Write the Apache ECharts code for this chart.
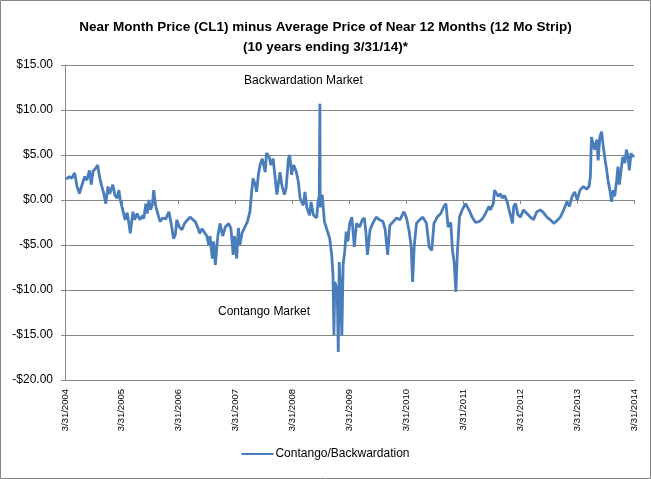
<!DOCTYPE html>
<html lang="en">
<head>
    <meta charset="UTF-8">
    <title>Contango/Backwardation</title>
    <style>
        html, body { margin: 0; padding: 0; background: #fff; }
    </style>
</head>
<body>
<div id="chart_main" style="width:651px;height:479px;"></div>
<script src="https://cdn.jsdelivr.net/npm/echarts@6/dist/echarts.min.js"></script>
<script>
    // near month minus 12 month strip
    var dates = [
        '2004-04-07', '2004-04-27', '2004-05-13', '2004-06-01', '2004-06-15', '2004-07-01', '2004-07-15', '2004-08-04',
        '2004-08-18', '2004-09-04', '2004-09-15', '2004-09-27', '2004-10-13', '2004-10-27', '2004-11-07', '2004-11-21',
        '2004-12-04', '2004-12-18',
        '2005-01-01', '2005-01-12', '2005-02-01', '2005-02-15', '2005-03-01', '2005-03-12', '2005-03-21', '2005-04-07',
        '2005-04-21', '2005-05-04', '2005-05-15', '2005-05-24', '2005-06-10', '2005-06-21', '2005-07-07', '2005-07-24',
        '2005-08-13', '2005-08-18', '2005-09-01', '2005-09-10', '2005-09-21', '2005-10-01', '2005-10-13', '2005-10-21',
        '2005-11-04', '2005-11-18', '2005-12-01', '2005-12-18',
        '2006-01-07', '2006-01-27', '2006-02-12', '2006-02-26', '2006-03-10', '2006-03-18', '2006-04-04', '2006-04-21',
        '2006-05-07', '2006-05-21', '2006-06-12', '2006-07-01', '2006-07-15', '2006-08-01', '2006-08-12', '2006-08-27',
        '2006-09-12', '2006-09-27', '2006-10-10', '2006-10-18', '2006-11-01', '2006-11-10', '2006-11-21', '2006-12-07',
        '2006-12-21',
        '2007-01-07', '2007-01-24', '2007-02-15', '2007-03-01', '2007-03-07', '2007-03-15', '2007-03-24', '2007-04-07',
        '2007-04-18', '2007-04-27', '2007-05-13', '2007-05-27', '2007-06-15', '2007-07-01', '2007-07-12', '2007-07-21',
        '2007-08-04', '2007-08-13', '2007-08-24', '2007-09-04', '2007-09-18', '2007-10-07', '2007-10-15', '2007-11-01',
        '2007-11-12', '2007-11-27', '2007-12-10', '2007-12-21',
        '2008-01-10', '2008-01-21', '2008-02-07', '2008-02-18', '2008-03-04', '2008-03-13', '2008-03-24', '2008-04-07',
        '2008-04-24', '2008-05-07', '2008-05-18', '2008-06-07', '2008-06-18', '2008-07-01', '2008-07-18', '2008-07-27',
        '2008-08-12', '2008-09-01', '2008-09-10', '2008-09-18', '2008-09-22', '2008-09-24', '2008-10-07', '2008-10-21',
        '2008-11-10', '2008-11-24', '2008-12-07', '2008-12-15', '2008-12-21', '2008-12-27',
        '2009-01-07', '2009-01-12', '2009-01-18', '2009-01-24', '2009-02-01', '2009-02-10', '2009-02-18', '2009-03-01',
        '2009-03-10', '2009-03-21', '2009-04-01', '2009-04-15', '2009-05-01', '2009-05-15', '2009-06-04', '2009-06-21',
        '2009-07-04', '2009-07-15', '2009-07-24', '2009-08-10', '2009-08-27', '2009-09-18', '2009-10-10', '2009-11-01',
        '2009-11-15', '2009-12-01', '2009-12-15',
        '2010-01-07', '2010-01-27', '2010-02-18', '2010-03-15', '2010-04-01', '2010-04-18', '2010-05-01', '2010-05-10',
        '2010-05-21', '2010-06-04', '2010-06-24', '2010-07-15', '2010-08-07', '2010-08-24', '2010-09-10', '2010-09-24',
        '2010-10-15', '2010-11-07', '2010-11-27', '2010-12-10', '2010-12-24',
        '2011-01-10', '2011-01-21', '2011-02-01', '2011-02-12', '2011-02-21', '2011-03-07', '2011-03-24', '2011-04-15',
        '2011-05-07', '2011-05-27', '2011-06-18', '2011-07-10', '2011-08-01', '2011-08-21', '2011-09-12', '2011-09-21',
        '2011-10-10', '2011-10-18', '2011-10-27', '2011-11-10', '2011-11-24', '2011-12-07', '2011-12-21',
        '2012-01-07', '2012-01-21', '2012-02-10', '2012-02-18', '2012-03-01', '2012-03-15', '2012-04-01', '2012-04-21',
        '2012-05-13', '2012-06-04', '2012-06-24', '2012-07-15', '2012-08-07', '2012-08-27', '2012-09-18', '2012-10-10',
        '2012-11-01', '2012-11-21', '2012-12-13',
        '2013-01-04', '2013-01-24', '2013-02-10', '2013-02-27', '2013-03-15', '2013-04-01', '2013-04-18', '2013-05-10',
        '2013-06-01', '2013-06-15', '2013-06-24', '2013-07-01', '2013-07-12', '2013-07-21', '2013-08-04', '2013-08-13',
        '2013-08-24', '2013-09-04', '2013-09-15', '2013-09-27', '2013-10-07', '2013-10-15', '2013-10-27', '2013-11-07',
        '2013-11-18', '2013-11-27', '2013-12-10', '2013-12-18', '2013-12-27',
        '2014-01-10', '2014-01-18', '2014-02-01', '2014-02-10', '2014-02-21', '2014-03-01', '2014-03-12', '2014-03-21',
        '2014-03-31'
    ];
    var spread = [
        2.3, 2.6, 2.4, 3.0, 1.6, 0.7, 1.5, 2.6,
        2.2, 3.3, 1.7, 3.2, 3.5, 3.9, 2.6, 1.6,
        0.8, -0.4,
        1.5, 0.7, 1.7, 0.5, 0.2, 1.1, 0.0, -1.2,
        -2.2, -1.4, -2.6, -3.7, -1.3, -2.2, -1.5, -2.2,
        -1.7, -2.1, -0.4, -1.5, 0.0, -1.1, -0.5, 1.1,
        -0.7, -1.6, -2.4, -2.0,
        -2.1, -1.3, -2.8, -4.3, -3.8, -2.2, -3.0, -3.3,
        -2.6, -2.3, -1.9, -2.2, -2.4, -3.1, -3.7, -3.2,
        -3.6, -4.0, -5.0, -4.0, -6.5, -4.6, -7.2, -4.0,
        -2.6,
        -4.0, -3.0, -2.6, -3.2, -4.3, -6.1, -4.0, -6.5,
        -3.1, -5.0, -3.6, -3.1, -2.4, -1.3, 0.9, 2.4,
        1.7, 0.9, 2.8, 3.9, 4.6, 3.1, 5.2, 4.8,
        3.9, 4.6, 2.4, 0.6,
        3.1, 1.7, 0.6, 1.3, 4.6, 5.0, 2.8, 3.9,
        3.1, 2.0, 0.2, -0.6, 0.9, -0.9, -1.7, -0.2,
        -1.7, -2.0, -0.2, 0.5, 10.7, -0.8, 0.6, -2.4,
        -3.5, -4.3, -6.1, -8.3, -15.0, -9.1,
        -9.8, -11.0, -16.9, -6.9, -9.8, -15.0, -7.2, -5.6,
        -3.5, -4.6, -2.6, -1.9, -5.2, -2.6, -3.0, -2.2,
        -2.0, -3.7, -6.1, -3.3, -2.6, -1.9, -2.2, -2.4,
        -3.3, -6.1, -2.8,
        -2.4, -2.0, -2.2, -1.3, -2.0, -3.5, -5.2, -9.1,
        -5.0, -2.6, -2.2, -1.9, -2.6, -5.2, -5.6, -2.6,
        -1.9, -1.5, -0.7, -0.4, -3.0,
        -2.5, -5.6, -7.0, -10.2, -5.9, -1.9, -1.1, -0.4,
        -1.1, -1.9, -2.5, -2.4, -2.1, -1.5, -0.7, -1.1,
        -0.4, 1.1, 1.3, 0.4, 0.7, 0.2, 0.5,
        -0.2, -1.2, -2.6, -0.7, -0.4, -1.6, -1.9, -1.1,
        -1.5, -1.9, -2.2, -1.3, -1.1, -1.4, -1.9, -2.2,
        -2.6, -2.3, -1.9,
        -1.1, -0.2, -0.7, 0.4, 0.9, 0.0, 1.1, 1.5,
        1.2, 1.5, 2.6, 7.0, 7.2, 5.6, 6.7, 4.4,
        7.0, 7.6, 5.9, 4.4, 3.3, 2.2, 1.1, -0.2,
        1.1, 0.4, 2.2, 3.7, 1.7,
        3.7, 4.8, 4.1, 5.6, 4.8, 3.3, 5.2, 4.8,
        5.0
    ];
    var tickYears = [2004, 2005, 2006, 2007, 2008, 2009, 2010, 2011, 2012, 2013, 2014];

    var myChart = echarts.init(document.getElementById('chart_main'));

    function toTime(s) {
        var p = s.split('-');
        return +new Date(+p[0], +p[1] - 1, +p[2]);
    }

    var yearTicks = tickYears.map(function (y) {
        return +new Date(y, 2, 31);
    });
    var seriesData = dates.map(function (d, i) {
        return [toTime(d), spread[i]];
    });

    function dateLabel(v) {
        var d = new Date(v);
        return (d.getMonth() + 1) + '/' + d.getDate() + '/' + d.getFullYear();
    }

    function dollarLabel(v) {
        return (v < 0 ? '-$' : '$') + Math.abs(v).toFixed(2);
    }

    var gray = '#868686';

    myChart.setOption({
        animation: false,
        title: {
            text: 'Near Month Price (CL1) minus Average Price of Near 12 Months (12 Mo Strip)\n(10 years ending 3/31/14)*',
            left: 'center',
            top: 12,
            textStyle: {
                fontFamily: '"Liberation Sans", sans-serif',
                fontSize: 13.5,
                fontWeight: 'bold',
                color: '#000',
                lineHeight: 20
            }
        },
        graphic: [
            {
                type: 'rect',
                shape: {x: 0.5, y: 0.5, width: 650, height: 478},
                style: {fill: 'none', stroke: gray, lineWidth: 1},
                silent: true
            },
            {
                type: 'text',
                left: 244,
                top: 75,
                style: {text: 'Backwardation Market', fill: '#000', font: '12px "Liberation Sans", Arial, sans-serif'}
            },
            {
                type: 'text',
                left: 218,
                top: 306,
                style: {text: 'Contango Market', fill: '#000', font: '12px "Liberation Sans", Arial, sans-serif'}
            }
        ],
        legend: {
            data: ['Contango/Backwardation'],
            bottom: 14,
            left: 'center',
            icon: 'rect',
            itemWidth: 32,
            itemHeight: 2,
            itemGap: 4,
            textStyle: {
                fontFamily: '"Liberation Sans", sans-serif',
                fontSize: 12,
                color: '#000',
                padding: [0, 0, 0, -3]
            }
        },
        grid: {
            left: 65,
            right: 17,
            top: 65,
            bottom: 99,
            containLabel: false
        },
        xAxis: [
            {
                type: 'value',
                position: 'bottom',
                min: yearTicks[0],
                max: yearTicks[yearTicks.length - 1],
                axisLine: {show: true, onZero: false, lineStyle: {color: gray}},
                axisTick: {show: false},
                splitLine: {show: false},
                axisLabel: {
                    customValues: yearTicks,
                    formatter: dateLabel,
                    rotate: 90,
                    margin: 9,
                    fontFamily: '"Liberation Sans", sans-serif',
                    fontSize: 9.5,
                    color: '#000'
                }
            },
            {
                type: 'value',
                position: 'bottom',
                min: yearTicks[0],
                max: yearTicks[yearTicks.length - 1],
                axisLine: {show: true, onZero: true, lineStyle: {color: gray}},
                axisTick: {show: true, customValues: yearTicks, length: 4, lineStyle: {color: gray}},
                splitLine: {show: false},
                axisLabel: {show: false}
            }
        ],
        yAxis: {
            type: 'value',
            min: -20,
            max: 15,
            interval: 5,
            axisLine: {show: true, lineStyle: {color: gray}},
            axisTick: {show: true, length: 4, lineStyle: {color: gray}},
            splitLine: {show: true, lineStyle: {color: gray, width: 1}},
            axisLabel: {
                formatter: dollarLabel,
                margin: 12,
                fontFamily: '"Liberation Sans", sans-serif',
                fontSize: 12,
                color: '#000'
            }
        },
        series: [
            {
                name: 'Contango/Backwardation',
                type: 'line',
                xAxisIndex: 1,
                data: seriesData,
                showSymbol: false,
                symbol: 'none',
                color: '#4A7EBB',
                lineStyle: {color: '#4A7EBB', width: 2.8},
                z: 3
            }
        ]
    });

    window.addEventListener('resize', function () {
        myChart.resize();
    });
</script>
</body>
</html>
